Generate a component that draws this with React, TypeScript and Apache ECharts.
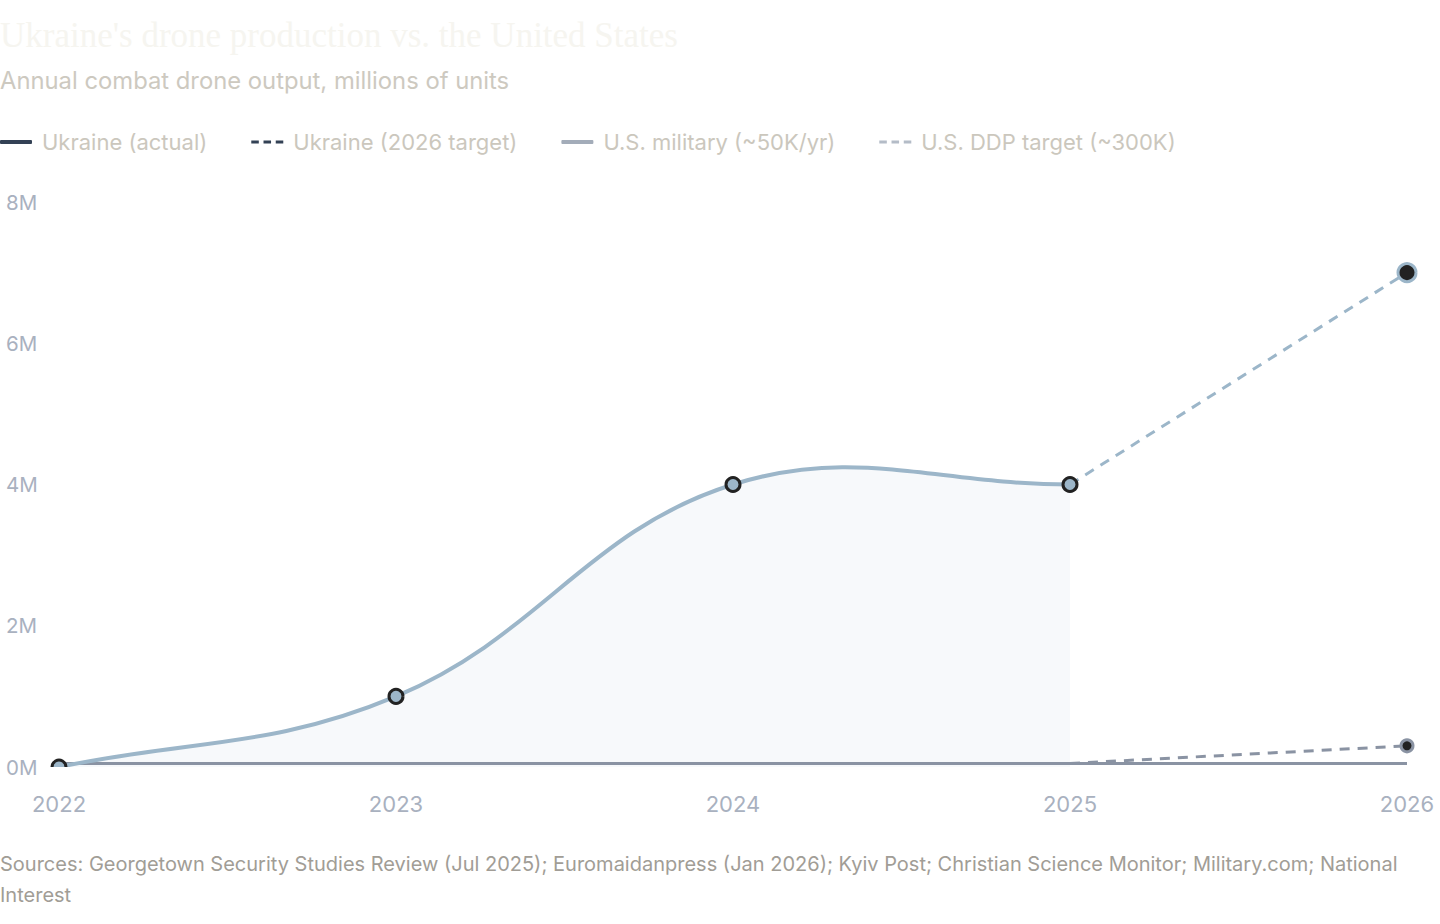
import { useEffect, useRef } from 'react';
import * as echarts from 'echarts';

const years = ['2022', '2023', '2024', '2025', '2026'];
// millions of units
const ukraineActual = [0, 1, 4, 4, null];
const ukraineTarget = [null, null, null, 4, 7];
const usMilitary = [0.05, 0.05, 0.05, 0.05, 0.05];
const usDdpTarget = [null, null, null, 0.05, 0.3];
const yTicks = [0, 2, 4, 6, 8];

const SANS = 'Inter, "Liberation Sans", Arial, sans-serif';
const DASH_ICON = 'path://M0,0h8v3h-8z M13,0h8v3h-8z M26,0h8v3h-8z';
const UA_LINE = '#9cb6c9';
const US_LINE = '#8a93a3';

// cubic spline with tension, control points from neighbouring points (pixel space)
function splinePath(pts: number[][], tension: number) {
  const cps = pts.map((cur, i) => {
    const prev = pts[i - 1] || cur;
    const next = pts[i + 1] || cur;
    const d01 = Math.hypot(cur[0] - prev[0], cur[1] - prev[1]);
    const d12 = Math.hypot(next[0] - cur[0], next[1] - cur[1]);
    let s01 = d01 / (d01 + d12);
    let s12 = d12 / (d01 + d12);
    if (isNaN(s01)) s01 = 0;
    if (isNaN(s12)) s12 = 0;
    const fa = tension * s01;
    const fb = tension * s12;
    return {
      prev: [cur[0] - fa * (next[0] - prev[0]), cur[1] - fa * (next[1] - prev[1])],
      next: [cur[0] + fb * (next[0] - prev[0]), cur[1] + fb * (next[1] - prev[1])],
    };
  });
  let d = `M${pts[0][0]},${pts[0][1]}`;
  for (let i = 1; i < pts.length; i++) {
    const a = cps[i - 1].next;
    const b = cps[i].prev;
    d += `C${a[0]},${a[1]},${b[0]},${b[1]},${pts[i][0]},${pts[i][1]}`;
  }
  return d;
}

export default function App() {
  const ref = useRef<HTMLDivElement>(null);

  useEffect(() => {
    if (!ref.current) return;
    document.body.style.margin = '0';
    const chart = echarts.init(ref.current, undefined, { renderer: 'svg' });

    const lastIdx = years.length - 1;
    const actualData = ukraineActual
      .map((v, i) => (v == null ? null : [i, v]))
      .filter((d) => d != null) as number[][];

    const renderArea = (params: any, api: any) => {
      if (params.dataIndex !== 0) return null;
      const pts = actualData.map((d) => api.coord(d));
      const base = api.coord([0, 0])[1];
      const last = pts[pts.length - 1];
      return {
        type: 'path',
        shape: { pathData: `${splinePath(pts, 0.4)}L${last[0]},${base}L${pts[0][0]},${base}Z` },
        style: { fill: '#f7f9fb', stroke: 'none' },
      };
    };

    const renderActual = (params: any, api: any) => {
      const cs = params.coordSys;
      const children: any[] = [];
      if (params.dataIndex === 0) {
        const pts = actualData.map((d) => api.coord(d));
        children.push({
          type: 'path',
          shape: { pathData: splinePath(pts, 0.4) },
          style: { fill: 'none', stroke: UA_LINE, lineWidth: 4 },
        });
      }
      const c = api.coord([api.value(0), api.value(1)]);
      children.push({
        type: 'circle',
        shape: { cx: c[0], cy: c[1], r: 7 },
        style: { fill: UA_LINE, stroke: '#222222', lineWidth: 3 },
      });
      // clip only at the bottom edge of the plot
      return {
        type: 'group',
        clipPath: {
          type: 'rect',
          shape: { x: cs.x - 30, y: cs.y - 30, width: cs.width + 60, height: cs.height + 30 },
        },
        children,
      };
    };

    const legendItem = (name: string, icon: string, color: string) => ({
      name,
      icon,
      itemStyle: { color, borderWidth: 0 },
      lineStyle: { color, width: 0 },
    });

    chart.setOption({
      animation: false,
      backgroundColor: '#ffffff',
      title: [
        {
          text: "Ukraine's drone production vs. the United States",
          left: 0,
          top: 18,
          padding: 0,
          textStyle: {
            fontFamily: '"Liberation Serif", "DejaVu Serif", Georgia, serif',
            fontSize: 35,
            fontWeight: 'normal',
            color: '#f6f5f0',
          },
        },
        {
          text: 'Annual combat drone output, millions of units',
          left: 0,
          top: 68,
          padding: 0,
          textStyle: {
            fontFamily: SANS,
            fontSize: 23.8,
            fontWeight: 'normal',
            color: '#cdc9c0',
          },
        },
      ],
      legend: {
        left: 0,
        top: 131,
        padding: 0,
        itemGap: 44,
        itemWidth: 32,
        itemHeight: 4,
        textStyle: { fontFamily: SANS, fontSize: 22, color: '#cbc7bd', padding: [0, 0, 0, 5] },
        data: [
          legendItem('Ukraine (actual)', 'roundRect', '#334155'),
          legendItem('Ukraine (2026 target)', DASH_ICON, '#334155'),
          legendItem('U.S. military (~50K/yr)', 'roundRect', '#a3acb9'),
          legendItem('U.S. DDP target (~300K)', DASH_ICON, '#b4bcc7'),
        ],
      },
      grid: { left: 59, right: 33, top: 202, bottom: 157 },
      xAxis: {
        type: 'category',
        data: years,
        boundaryGap: false,
        axisLine: { show: false },
        axisTick: { show: false },
        axisLabel: { fontFamily: SANS, fontSize: 22, color: '#a9b1bf', margin: 26 },
        splitLine: { show: false },
      },
      yAxis: {
        type: 'value',
        min: yTicks[0],
        max: yTicks[yTicks.length - 1],
        interval: 2,
        axisLine: { show: false },
        axisTick: { show: false },
        splitLine: { show: false },
        axisLabel: {
          fontFamily: SANS,
          fontSize: 20.5,
          color: '#a9b1bf',
          align: 'left',
          margin: 53,
          formatter: '{value}M',
        },
      },
      series: [
        {
          name: 'Ukraine (actual) area',
          type: 'custom',
          data: actualData,
          clip: true,
          z: 1,
          silent: true,
          renderItem: renderArea,
        },
        {
          name: 'U.S. military (~50K/yr)',
          type: 'line',
          data: usMilitary,
          symbol: 'none',
          z: 2,
          lineStyle: { color: US_LINE, width: 3 },
          itemStyle: { color: US_LINE },
        },
        {
          name: 'U.S. DDP target (~300K)',
          type: 'line',
          data: usDdpTarget.map((v, i) =>
            i === lastIdx ? { value: v, symbol: 'circle', symbolSize: 12 } : { value: v, symbol: 'none' },
          ),
          z: 3,
          lineStyle: { color: US_LINE, width: 3, type: [10, 8] },
          itemStyle: { color: '#222222', borderColor: US_LINE, borderWidth: 3 },
        },
        {
          name: 'Ukraine (2026 target)',
          type: 'line',
          data: ukraineTarget.map((v, i) =>
            i === lastIdx ? { value: v, symbol: 'circle', symbolSize: 18 } : { value: v, symbol: 'none' },
          ),
          z: 3,
          lineStyle: { color: UA_LINE, width: 3, type: [10, 8] },
          itemStyle: { color: '#222222', borderColor: UA_LINE, borderWidth: 3 },
        },
        {
          name: 'Ukraine (actual)',
          type: 'custom',
          data: actualData,
          clip: false,
          z: 4,
          itemStyle: { color: UA_LINE },
          renderItem: renderActual,
        },
      ],
      graphic: [
        {
          type: 'text',
          left: 0,
          top: 848,
          style: {
            text:
              'Sources: Georgetown Security Studies Review (Jul 2025); Euromaidanpress (Jan 2026); Kyiv Post; Christian Science Monitor; Military.com; National\nInterest',
            fontFamily: SANS,
            fontSize: 20,
            lineHeight: 31,
            fill: '#a19d96',
          },
        },
      ],
    });

    return () => chart.dispose();
  }, []);

  return <div ref={ref} style={{ position: 'absolute', left: 0, top: 0, width: 1440, height: 924 }} />;
}
